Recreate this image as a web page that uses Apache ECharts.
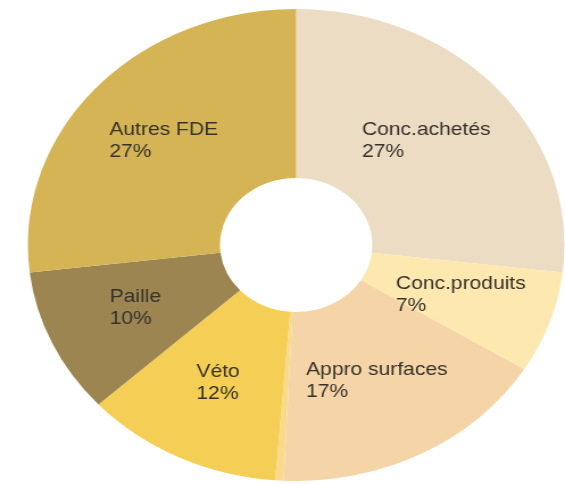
<!DOCTYPE html>
<html>
<head>
<meta charset="utf-8">
<script src="https://cdn.jsdelivr.net/npm/echarts@6/dist/echarts.min.js"></script>
<style>
  html, body { margin: 0; padding: 0; background: #ffffff; overflow: hidden; }
  #wrap { width: 565px; height: 484px; overflow: hidden; }
  #chart { width: 497px; height: 484px; transform: scaleX(1.1368); transform-origin: 0 0; }
</style>
</head>
<body>
<div id="wrap"><div id="chart"></div></div>
<script>
// Data (clockwise from 12 o'clock)
const categories = ['Conc.achetés', 'Conc.produits', 'Appro surfaces', '', 'Véto', 'Paille', 'Autres FDE'];
const values = [27, 7, 17, 0.5, 12, 10, 27];
const colors = ['#ecdcc4', '#fde8b0', '#f5d5a8', '#f9da8c', '#f5cf55', '#9c8550', '#d5b455'];

const data = categories.map((name, i) => ({
  name: name,
  value: values[i],
  itemStyle: { color: colors[i] },
  label: { show: name !== '' }
}));

const chart = echarts.init(document.getElementById('chart'), null, { renderer: 'canvas' });
chart.setOption({
  animation: false,
  backgroundColor: '#ffffff',
  series: [{
    type: 'pie',
    center: [260.5, 245],
    radius: [67, 236],
    startAngle: 90,
    clockwise: true,
    avoidLabelOverlap: false,
    itemStyle: { borderWidth: 0 },
    emphasis: { disabled: true },
    label: {
      position: 'inside',
      formatter: p => p.name + '\n' + p.value + '%',
      color: '#36322b',
      fontFamily: 'Liberation Sans, Arial, sans-serif',
      fontSize: 18.5,
      lineHeight: 22,
      align: 'center'
    },
    labelLine: { show: false },
    labelLayout: function (params) {
      const r = params.labelRect;
      return { x: r.x - 1, y: r.y - 1, align: 'left', verticalAlign: 'top' };
    },
    data: data
  }]
});
</script>
</body>
</html>
